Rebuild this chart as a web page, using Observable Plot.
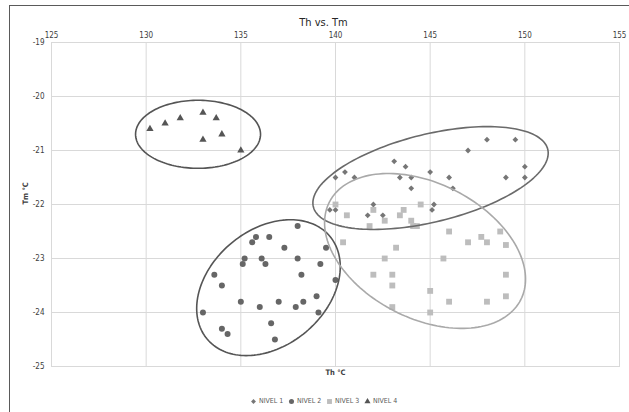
<!DOCTYPE html>
<html><head><meta charset="utf-8">
<script src="https://cdn.jsdelivr.net/npm/d3@7"></script>
<script src="https://cdn.jsdelivr.net/npm/@observablehq/plot@0.6"></script>
<style>
body{margin:0;background:#fff;overflow:hidden}
#wrap{position:relative;width:629px;height:412px;overflow:hidden}
#border{position:absolute;left:9px;top:5px;width:700px;height:500px;border:1.5px solid #5a5a5a}
#legend{position:absolute;top:397px;left:250px;display:flex;font:7px "Liberation Sans Narrow","DejaVu Sans Condensed",sans-serif;color:#595959;line-height:8px}
.item{display:flex;align-items:center;width:38px;white-space:nowrap}
.item svg{margin-right:2px}
</style></head>
<body><div id="wrap"><div id="border"></div><div id="chart"></div><div id="legend"></div></div>
<script>
const xTicks = [125,130,135,140,145,150,155];
const yTicks = [-19,-20,-21,-22,-23,-24,-25];
const seriesNames = ["NIVEL 1","NIVEL 2","NIVEL 3","NIVEL 4"];
const seriesSymbols = ["diamond2","circle","square","triangle"];
const seriesColors = ["#767676","#666666","#bdbdbd","#555555"];
const seriesR = [2.6,3,3.3,2.7];

const nivel1X = [148,149.5,147,143.1,143.7,140.5,140,141,143.4,144,145,146,149,150,150,144,146.2,142,145.2,139.7,140,141.7,142.5,145.1];
const nivel1Y = [-20.8,-20.8,-21,-21.2,-21.3,-21.4,-21.5,-21.5,-21.5,-21.5,-21.4,-21.5,-21.5,-21.3,-21.5,-21.7,-21.7,-22,-22,-22.1,-22.1,-22.2,-22.2,-22.1];

const nivel2X = [138,135.8,135.6,136.5,137.3,139.5,135.2,135.1,136.1,136.3,138,139.2,133.6,138.2,134,140,135,136,137,137.9,138.3,139,133,139.1,136.6,134,134.3,136.8];
const nivel2Y = [-22.4,-22.6,-22.7,-22.6,-22.8,-22.8,-23,-23.1,-23,-23.1,-23,-23.1,-23.3,-23.3,-23.5,-23.4,-23.8,-23.9,-23.8,-23.9,-23.8,-23.7,-24,-24,-24.2,-24.3,-24.4,-24.5];

const nivel3X = [140,140.6,142,141.8,142.6,143.4,143.6,144,144.3,144.5,144.1,140.4,143.2,142.6,145.7,146,147,147.7,148,148.7,149,142,143,143,149,145,146,148,149,143,145];
const nivel3Y = [-22,-22.2,-22.1,-22.4,-22.3,-22.2,-22.1,-22.3,-22.4,-22,-22.4,-22.7,-22.8,-23,-23,-22.5,-22.7,-22.6,-22.7,-22.5,-22.75,-23.3,-23.3,-23.5,-23.3,-23.6,-23.8,-23.8,-23.7,-23.9,-24];

const nivel4X = [130.2,131,131.8,133,133.7,134,133,135];
const nivel4Y = [-20.6,-20.5,-20.4,-20.3,-20.4,-20.7,-20.8,-21];

// ellipse annotations: centre and conjugate semi-axes in data units
const ellipseCx = [145.02,136.46,144.73,132.74];
const ellipseCy = [-21.51,-23.54,-22.86,-20.70];
const ellipseUx = [6.19,3.24,5.055,3.30];
const ellipseUy = [0.533,0.952,-0.904,0];
const ellipseVx = [-0.553,-1.97,1.617,0];
const ellipseVy = [0.789,0.822,1.113,0.63];
const ellipseStroke = ["#6a6a6a","#555555","#a9a9a9","#555555"];

const seriesX = [nivel1X,nivel2X,nivel3X,nivel4X];
const seriesY = [nivel1Y,nivel2Y,nivel3Y,nivel4Y];

const ellipsePts = [];
ellipseCx.forEach((cx,i)=>{
  for(let k=0;k<160;k++){
    const t = 2*Math.PI*k/160;
    ellipsePts.push({id:i, stroke:ellipseStroke[i],
      x: cx + ellipseUx[i]*Math.cos(t) + ellipseVx[i]*Math.sin(t),
      y: ellipseCy[i] + ellipseUy[i]*Math.cos(t) + ellipseVy[i]*Math.sin(t)});
  }
});

const font = '"Liberation Sans Narrow","DejaVu Sans Condensed",sans-serif';
const dotMarks = seriesX.map((xs,i)=>Plot.dot(xs.map((x,j)=>({x, y:seriesY[i][j]})),
  {x:"x", y:"y", symbol:seriesSymbols[i], r:seriesR[i], fill:seriesColors[i], stroke:"none"}));

const chart = Plot.plot({
  width:629, height:412,
  marginLeft:51, marginRight:10, marginTop:42, marginBottom:46,
  x:{domain:[125,155]}, y:{domain:[-25,-19]},
  color:{type:"identity"},
  style:{fontFamily:font, fontSize:"8px", color:"#404040", background:"transparent", overflow:"visible"},
  marks:[
    Plot.gridX(xTicks,{stroke:"#d9d9d9", strokeOpacity:1}),
    Plot.gridY(yTicks,{stroke:"#d9d9d9", strokeOpacity:1}),
    Plot.frame({stroke:"#d9d9d9"}),
    Plot.axisX(xTicks,{anchor:"top", tickSize:0, tickPadding:5, label:null, tickFormat:d=>String(d)}),
    Plot.axisY(yTicks,{anchor:"left", tickSize:0, tickPadding:7, label:null, tickFormat:d=>String(d)}),
    ...dotMarks,
    Plot.line(ellipsePts,{x:"x", y:"y", z:"id", stroke:"stroke", curve:"linear-closed", strokeWidth:1.6}),
    Plot.text(["Th vs. Tm"],{frameAnchor:"top", dy:-24, dx:-12, fontSize:11, fill:"#262626"}),
    Plot.text(["Th °C"],{frameAnchor:"bottom", dy:8, fontSize:7.5, fontWeight:"bold", fill:"#404040"}),
    Plot.text(["Tm °C"],{frameAnchor:"left", dx:-26, rotate:-90, fontSize:7.5, fontWeight:"bold", fill:"#404040"})
  ]
});
document.getElementById("chart").appendChild(chart);

// legend
const leg = document.getElementById("legend");
const symbols = {diamond2:d3.symbolDiamond2, circle:d3.symbolCircle, square:d3.symbolSquare, triangle:d3.symbolTriangle};
seriesNames.forEach((name,i)=>{
  const item = document.createElement("div"); item.className="item";
  const s = d3.create("svg").attr("width",7).attr("height",7);
  s.append("path").attr("transform","translate(3.5,3.5)")
    .attr("d", d3.symbol(symbols[seriesSymbols[i]], Math.PI*seriesR[i]*seriesR[i]*0.7)())
    .attr("fill", seriesColors[i]);
  item.appendChild(s.node());
  const t = document.createElement("span"); t.textContent = name; item.appendChild(t);
  leg.appendChild(item);
});
</script>
</body></html>
